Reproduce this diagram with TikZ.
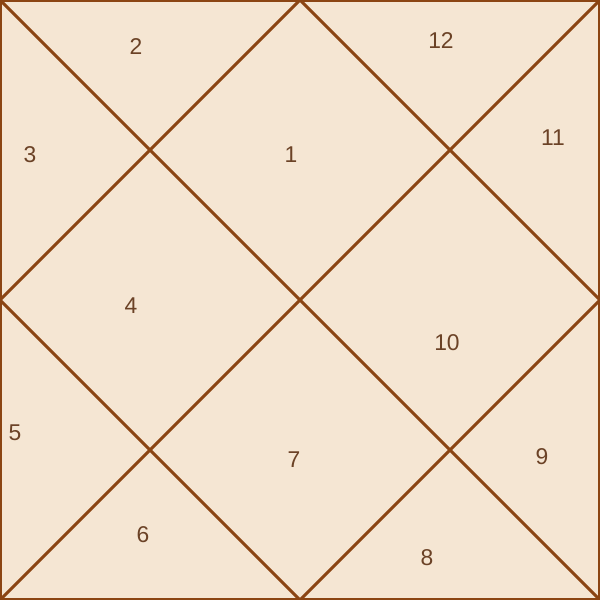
\documentclass[tikz,border=0pt]{standalone}
\usepackage{fontspec}
\setmainfont{Liberation Sans}
\definecolor{chartbg}{HTML}{F5E6D3}
\definecolor{chartline}{HTML}{8B4513}
\definecolor{housetext}{HTML}{6B4226}
\tikzset{
  house/.style={text=housetext, font=\fontsize{13}{15}\selectfont, inner sep=0pt},
  chartedge/.style={draw=chartline, line width=1.7pt},
}
\begin{document}
\begin{tikzpicture}[x=0.02cm, y=-0.02cm]
    \fill[chartbg] (0, 0) rectangle (600, 600);
    \useasboundingbox (0, 0) rectangle (600, 600);

    \coordinate (tl) at (0, 0);
    \coordinate (tr) at (600, 0);
    \coordinate (br) at (600, 600);
    \coordinate (bl) at (0, 600);

    \coordinate (mt) at (300, 0);
    \coordinate (mr) at (600, 300);
    \coordinate (mb) at (300, 600);
    \coordinate (ml) at (0, 300);

    \draw[chartedge, line width=2.2pt] (tl) rectangle (br);

    \draw[chartedge] (tl)
    -- (br);
    \draw[chartedge] (tr)
    -- (bl);

    \draw[chartedge] (mt)
    -- (mr)
    -- (mb)
    -- (ml)
    -- cycle;

    \node[house] (h1) at (291, 155) {1};
    \node[house] (h2) at (136, 47) {2};
    \node[house] (h3) at (30, 155) {3};
    \node[house] (h4) at (131, 306) {4};
    \node[house] (h5) at (15, 433) {5};
    \node[house] (h6) at (143, 535) {6};
    \node[house] (h7) at (294, 460) {7};
    \node[house] (h8) at (427, 558) {8};
    \node[house] (h9) at (542, 457) {9};
    \node[house] (h10) at (447, 343) {10};
    \node[house] (h11) at (553, 138) {11};
    \node[house] (h12) at (441, 41) {12};

  \end{tikzpicture}
\end{document}
